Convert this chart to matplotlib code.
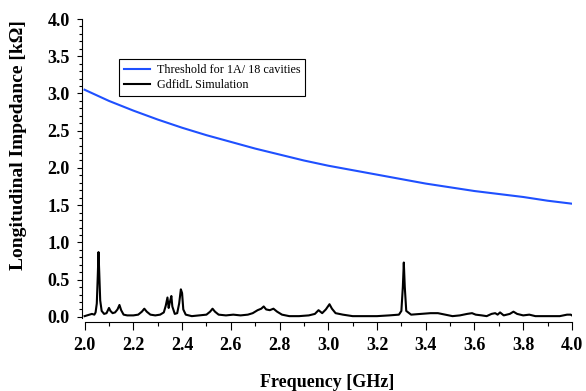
import numpy as np
import matplotlib
matplotlib.use("Agg")
import matplotlib.pyplot as plt
from matplotlib.ticker import MultipleLocator

plt.rcParams['font.family'] = ['Liberation Serif', 'DejaVu Serif']

# threshold curve for 1A / 18 cavities [kOhm]
f_thr = [2.0, 2.1, 2.2, 2.3, 2.4, 2.5, 2.6, 2.7, 2.8, 2.9, 3.0,
         3.1, 3.2, 3.3, 3.4, 3.5, 3.6, 3.7, 3.8, 3.9, 4.0]
z_thr = [3.05, 2.90, 2.77, 2.65, 2.54, 2.44, 2.35, 2.26, 2.18, 2.10, 2.03,
         1.97, 1.91, 1.85, 1.79, 1.74, 1.69, 1.65, 1.61, 1.56, 1.52]

# GdfidL simulation [kOhm]
f_sim = [2.000, 2.010, 2.020, 2.030, 2.040, 2.045, 2.050, 2.054, 2.057, 2.060,
         2.064, 2.070, 2.080, 2.090, 2.100, 2.106, 2.115, 2.125, 2.135, 2.143,
         2.150, 2.160, 2.175, 2.200, 2.220, 2.235, 2.245, 2.255, 2.270, 2.290,
         2.310, 2.325, 2.333, 2.340, 2.345, 2.350, 2.356, 2.360, 2.370, 2.380,
         2.388, 2.395, 2.400, 2.405, 2.415, 2.440, 2.470, 2.500, 2.515, 2.525,
         2.535, 2.550, 2.580, 2.610, 2.640, 2.670, 2.690, 2.710, 2.725, 2.735,
         2.745, 2.760, 2.775, 2.790, 2.810, 2.840, 2.880, 2.920, 2.945, 2.960,
         2.975, 2.990, 3.005, 3.015, 3.030, 3.060, 3.100, 3.150, 3.200, 3.250,
         3.290, 3.300, 3.306, 3.310, 3.314, 3.320, 3.340, 3.380, 3.420, 3.450,
         3.480, 3.510, 3.540, 3.570, 3.590, 3.605, 3.630, 3.650, 3.670, 3.685,
         3.695, 3.705, 3.720, 3.745, 3.760, 3.775, 3.800, 3.825, 3.850, 3.900,
         3.950, 3.980, 3.995, 4.000]
z_sim = [0.01, 0.02, 0.03, 0.04, 0.03, 0.06, 0.18, 0.55, 0.87, 0.60,
         0.22, 0.08, 0.04, 0.05, 0.12, 0.08, 0.05, 0.06, 0.10, 0.16,
         0.09, 0.03, 0.02, 0.02, 0.03, 0.07, 0.11, 0.07, 0.03, 0.02,
         0.03, 0.06, 0.15, 0.26, 0.12, 0.20, 0.28, 0.14, 0.04, 0.05,
         0.18, 0.37, 0.32, 0.10, 0.03, 0.01, 0.02, 0.03, 0.07, 0.11,
         0.07, 0.03, 0.02, 0.03, 0.02, 0.03, 0.05, 0.09, 0.11, 0.14,
         0.10, 0.09, 0.11, 0.07, 0.03, 0.01, 0.01, 0.02, 0.04, 0.09,
         0.05, 0.10, 0.17, 0.11, 0.05, 0.03, 0.01, 0.01, 0.01, 0.02,
         0.03, 0.08, 0.40, 0.73, 0.40, 0.08, 0.03, 0.04, 0.05, 0.05,
         0.03, 0.01, 0.02, 0.04, 0.05, 0.03, 0.02, 0.01, 0.04, 0.05,
         0.03, 0.06, 0.02, 0.04, 0.07, 0.04, 0.02, 0.03, 0.01, 0.01,
         0.01, 0.03, 0.03, 0.02]

fig = plt.figure(figsize=(5.86, 3.91), dpi=100)
ax = fig.add_axes([0.1394, 0.1867, 0.8366, 0.7647])

ax.plot(f_thr, z_thr, color='#1f50ff', lw=1.5, label='Threshold for 1A/ 18 cavities')
ax.plot(f_sim, z_sim, color='black', lw=1.5, label='GdfidL Simulation')

ax.set_xlim(1.988, 4.0)
ax.set_ylim(-0.015, 4.0)

ax.spines['top'].set_visible(False)
ax.spines['right'].set_visible(False)
ax.spines['bottom'].set_position(('outward', 3))
ax.spines['bottom'].set_bounds(2.0, 4.0)
for s in ('left', 'bottom'):
    ax.spines[s].set_linewidth(0.8)

ax.xaxis.set_major_locator(MultipleLocator(0.2))
ax.xaxis.set_minor_locator(MultipleLocator(0.1))
ax.yaxis.set_major_locator(MultipleLocator(0.5))
ax.yaxis.set_minor_locator(MultipleLocator(0.1))
ax.tick_params(axis='x', which='major', direction='out', length=5.8, width=0.8, pad=5)
ax.tick_params(axis='x', which='minor', direction='out', length=2.9, width=0.8)
ax.tick_params(axis='y', which='major', direction='out', length=3.6, width=0.8, pad=5)
ax.tick_params(axis='y', which='minor', direction='out', length=2.2, width=0.8)
for lab in ax.get_xticklabels() + ax.get_yticklabels():
    lab.set_fontweight('bold')
    lab.set_fontsize(13)
ax.xaxis.set_major_formatter(matplotlib.ticker.FormatStrFormatter('%.1f'))
ax.yaxis.set_major_formatter(matplotlib.ticker.FormatStrFormatter('%.1f'))

ax.set_xlabel('Frequency [GHz]', fontsize=13, fontweight='bold', labelpad=14)
ax.set_ylabel('Longitudinal Impedance [k\u03a9]', fontsize=14, fontweight='bold')
ax.yaxis.set_label_coords(-0.112, 0.578)

leg = ax.legend(loc='upper left', bbox_to_anchor=(0.203, 0.849),
                bbox_transform=fig.transFigure, fontsize=8.7, frameon=True,
                fancybox=False, edgecolor='black', framealpha=1,
                handlelength=2.2, handletextpad=0.55, labelspacing=0.3,
                borderpad=0.4, borderaxespad=0)
leg.get_frame().set_linewidth(0.8)

fig.savefig('out.png', dpi=100)
